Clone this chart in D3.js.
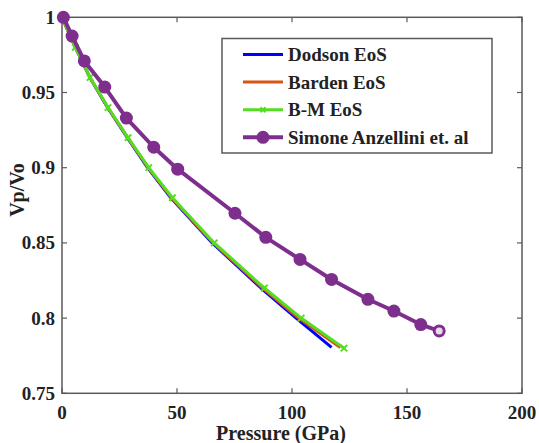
<!DOCTYPE html>
<html>
  <head>
    <meta charset="UTF-8">
    <script src="https://cdn.jsdelivr.net/npm/d3@7"></script>
    <style>
      body { margin: 0; background: #fff; }
      svg text { font-family: "Liberation Serif", "Times New Roman", serif; font-weight: bold; fill: #222; }
    </style>
  </head>
  <body>
    <svg id="chart" width="539" height="443"></svg>
    <script>
      // values
      var eosV      = [1, 0.98, 0.96, 0.94, 0.92, 0.90, 0.88, 0.85, 0.82, 0.80, 0.7805];
      var dodsonP   = [0, 5.8, 12.1, 19.8, 28.4, 37.2, 47.3, 65.3, 86.5, 101.8, 117.2];
      var bardenP   = [0, 5.8, 12.15, 19.9, 28.55, 37.45, 47.6, 65.7, 87.2, 102.9, 121.0];
      var bmV       = [1, 0.98, 0.96, 0.94, 0.92, 0.90, 0.88, 0.85, 0.82, 0.80, 0.78];
      var bmP       = [0, 5.8, 12.2, 20, 28.7, 37.7, 48, 66.2, 88, 104, 122.6];
      var simoneP   = [0.6, 4.4, 9.7, 18.6, 28, 39.9, 50.3, 75.2, 88.6, 103.5, 117.2, 133, 144.3, 156, 164];
      var simoneV   = [1.0, 0.9875, 0.971, 0.9536, 0.933, 0.9136, 0.899, 0.8697, 0.8537, 0.839, 0.8257, 0.8125, 0.8047, 0.7957, 0.7915];
      var xTicks    = [0, 50, 100, 150, 200];
      var yTicks    = [0.75, 0.8, 0.85, 0.9, 0.95, 1];
      var legendNames = ["Dodson EoS", "Barden EoS", "B-M EoS", "Simone Anzellini et. al"];

      var svg = d3.select("#chart");
      var pLeft = 62, pRight = 522, pTop = 17.3, pBottom = 393.3;

      var x = d3.scaleLinear().domain([0, 200]).range([pLeft, pRight]);
      var y = d3.scaleLinear().domain([0.75, 1]).range([pBottom, pTop]);

      var axisColor = "#5a5a5a";

      // frame
      svg.append("rect")
          .attr("x", pLeft).attr("y", pTop)
          .attr("width", pRight - pLeft).attr("height", pBottom - pTop)
          .attr("fill", "none").attr("stroke", axisColor).attr("stroke-width", 1.5);

      // ticks (inward) on all four sides
      var tickLen = 5;
      xTicks.forEach(function(t) {
        svg.append("line").attr("x1", x(t)).attr("x2", x(t)).attr("y1", pBottom).attr("y2", pBottom - tickLen)
            .attr("stroke", axisColor).attr("stroke-width", 1.2);
        svg.append("line").attr("x1", x(t)).attr("x2", x(t)).attr("y1", pTop).attr("y2", pTop + tickLen)
            .attr("stroke", axisColor).attr("stroke-width", 1.2);
        svg.append("text").attr("x", x(t)).attr("y", 418.5)
            .attr("text-anchor", "middle").attr("font-size", 19).text(t);
      });
      yTicks.forEach(function(t) {
        svg.append("line").attr("x1", pLeft).attr("x2", pLeft + tickLen).attr("y1", y(t)).attr("y2", y(t))
            .attr("stroke", axisColor).attr("stroke-width", 1.2);
        svg.append("line").attr("x1", pRight).attr("x2", pRight - tickLen).attr("y1", y(t)).attr("y2", y(t))
            .attr("stroke", axisColor).attr("stroke-width", 1.2);
        svg.append("text").attr("x", 55).attr("y", y(t) + 6.5)
            .attr("text-anchor", "end").attr("font-size", 19).text(String(t));
      });

      svg.append("text").attr("x", 281).attr("y", 440)
          .attr("text-anchor", "middle").attr("font-size", 20).text("Pressure (GPa)");
      svg.append("text").attr("transform", "translate(24,190) rotate(-90)")
          .attr("text-anchor", "middle").attr("font-size", 20).text("Vp/Vo");

      var line = d3.line().x(function(d) { return x(d[0]); }).y(function(d) { return y(d[1]); });

      function pairs(ps, vs) { return ps.map(function(p, i) { return [p, vs[i]]; }); }

      var series = [
        { name: legendNames[0], color: "#0000ff", width: 3, data: pairs(dodsonP, eosV) },
        { name: legendNames[1], color: "#d95319", width: 3, data: pairs(bardenP, eosV) },
        { name: legendNames[2], color: "#55dd22", width: 3, data: pairs(bmP, bmV), marker: "x" },
        { name: legendNames[3], color: "#7e2f8e", width: 4, data: pairs(simoneP, simoneV), marker: "o" }
      ];

      var crossPath = function(cx, cy, s) {
        return "M" + (cx - s) + "," + (cy - s) + "L" + (cx + s) + "," + (cy + s) +
               "M" + (cx - s) + "," + (cy + s) + "L" + (cx + s) + "," + (cy - s);
      };

      function drawMarkers(s, pts) {
        if (s.marker === "x") {
          pts.forEach(function(p) {
            svg.append("path").attr("d", crossPath(p[0], p[1], 3.2))
                .attr("stroke", s.color).attr("stroke-width", 2).attr("fill", "none");
          });
        } else if (s.marker === "o") {
          pts.forEach(function(p, i) {
            var last = i === pts.length - 1 && pts.length > 1;
            svg.append("circle").attr("cx", p[0]).attr("cy", p[1])
                .attr("r", last ? 5 : 6.5)
                .attr("fill", last ? "#e8dcea" : s.color)
                .attr("stroke", s.color).attr("stroke-width", last ? 3 : 0);
          });
        }
      }

      series.forEach(function(s) {
        svg.append("path").datum(s.data).attr("d", line)
            .attr("fill", "none").attr("stroke", s.color).attr("stroke-width", s.width)
            .attr("stroke-linejoin", "round");
        drawMarkers(s, s.data.map(function(d) { return [x(d[0]), y(d[1])]; }));
      });

      // legend
      var lg = svg.append("g");
      lg.append("rect").attr("x", 222).attr("y", 38.5).attr("width", 270).attr("height", 114.5)
          .attr("fill", "#fff").attr("stroke", axisColor).attr("stroke-width", 1.5);
      series.forEach(function(s, i) {
        var ly = 54.5 + i * 27.6;
        lg.append("line").attr("x1", 243).attr("x2", 283).attr("y1", ly).attr("y2", ly)
            .attr("stroke", s.color).attr("stroke-width", s.width);
        if (s.marker === "x") {
          lg.append("path").attr("d", crossPath(263, ly, 2.5))
              .attr("stroke", s.color).attr("stroke-width", 2).attr("fill", "none");
        } else if (s.marker === "o") {
          lg.append("circle").attr("cx", 263).attr("cy", ly).attr("r", 6.5).attr("fill", s.color);
        }
        lg.append("text").attr("x", 288).attr("y", ly + 6.5)
            .attr("font-size", 19).text(s.name);
      });
    </script>
  </body>
</html>
